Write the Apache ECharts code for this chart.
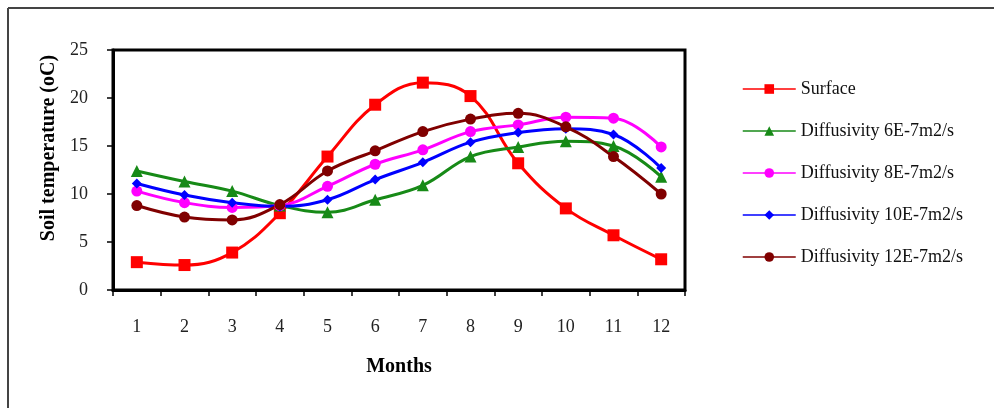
<!DOCTYPE html>
<html>
<head>
<meta charset="utf-8">
<script src="https://cdn.jsdelivr.net/npm/echarts@6/dist/echarts.min.js"></script>
<style>
  html, body { margin: 0; padding: 0; background: #fff; }
  #main { width: 994px; height: 408px; }
</style>
</head>
<body>
<div id="main"></div>
<script>
// 数据
var months = ['1', '2', '3', '4', '5', '6', '7', '8', '9', '10', '11', '12'];
var surface = [2.9, 2.6, 3.9, 8.0, 13.9, 19.3, 21.6, 20.2, 13.2, 8.5, 5.7, 3.2];
var diff6 = [12.4, 11.3, 10.3, 8.8, 8.1, 9.4, 10.9, 13.9, 14.9, 15.5, 15.0, 11.8];
var diff8 = [10.3, 9.1, 8.6, 8.8, 10.8, 13.1, 14.6, 16.5, 17.2, 18.0, 17.9, 14.9];
var diff10 = [11.1, 9.9, 9.1, 8.7, 9.4, 11.5, 13.3, 15.4, 16.4, 16.8, 16.2, 12.7];
var diff12 = [8.8, 7.6, 7.3, 8.9, 12.4, 14.5, 16.5, 17.8, 18.4, 17.0, 13.9, 10.0];
var yTicks = [0, 5, 10, 15, 20, 25];

var serif = '"Liberation Serif", "DejaVu Serif", serif';

var myChart = echarts.init(document.getElementById('main'));

var mkSeries = function (name, data, color, symbol, size) {
    return {
        name: name,
        type: 'line',
        smooth: 0.4,
        data: data,
        symbol: symbol,
        symbolSize: size,
        lineStyle: { color: color, width: 3 },
        itemStyle: { color: color },
        animation: false
    };
};

var option = {
    backgroundColor: '#fff',
    graphic: [
        { type: 'line', shape: { x1: 8, y1: 8, x2: 994, y2: 8 }, style: { stroke: '#444', lineWidth: 2 } },
        { type: 'line', shape: { x1: 8, y1: 8, x2: 8, y2: 408 }, style: { stroke: '#444', lineWidth: 2 } }
    ],
    grid: {
        left: 113, top: 50, width: 572, height: 240,
        show: true, borderColor: '#000', borderWidth: 3, backgroundColor: 'transparent'
    },
    legend: {
        orient: 'vertical',
        left: 737, top: 75,
        itemWidth: 53, itemHeight: 12, itemGap: 24,
        lineStyle: { width: 1.5 },
        textStyle: { fontFamily: serif, fontSize: 18, color: '#111' },
        data: ['Surface', 'Diffusivity 6E-7m2/s', 'Diffusivity 8E-7m2/s', 'Diffusivity 10E-7m2/s', 'Diffusivity 12E-7m2/s']
    },
    xAxis: {
        type: 'category',
        data: months,
        boundaryGap: true,
        name: 'Months',
        nameLocation: 'middle',
        nameGap: 67,
        nameTextStyle: { fontFamily: serif, fontSize: 20, fontWeight: 'bold', color: '#000' },
        axisLine: { lineStyle: { color: '#000', width: 3 } },
        axisTick: { show: true, length: 6, lineStyle: { color: '#000', width: 1.5 } },
        axisLabel: { margin: 28, fontFamily: serif, fontSize: 18, color: '#222' },
        splitLine: { show: false }
    },
    yAxis: {
        type: 'value',
        min: yTicks[0], max: yTicks[yTicks.length - 1], interval: 5,
        name: 'Soil temperature (oC)',
        nameLocation: 'middle',
        nameGap: 53,
        nameTextStyle: { fontFamily: serif, fontSize: 20, fontWeight: 'bold', color: '#000', padding: [0, 0, 0, 44] },
        axisLine: { show: true, lineStyle: { color: '#000', width: 3 } },
        axisTick: { show: true, length: 6, lineStyle: { color: '#000', width: 1.5 } },
        axisLabel: { margin: 25, fontFamily: serif, fontSize: 18, color: '#222' },
        splitLine: { show: false }
    },
    series: [
        mkSeries('Surface', surface, '#ff0000', 'rect', 12),
        mkSeries('Diffusivity 6E-7m2/s', diff6, '#178a17', 'triangle', 12),
        mkSeries('Diffusivity 8E-7m2/s', diff8, '#ff00ff', 'circle', 11),
        mkSeries('Diffusivity 10E-7m2/s', diff10, '#0000ff', 'diamond', 10),
        mkSeries('Diffusivity 12E-7m2/s', diff12, '#800000', 'circle', 11)
    ]
};

myChart.setOption(option);
</script>
</body>
</html>
